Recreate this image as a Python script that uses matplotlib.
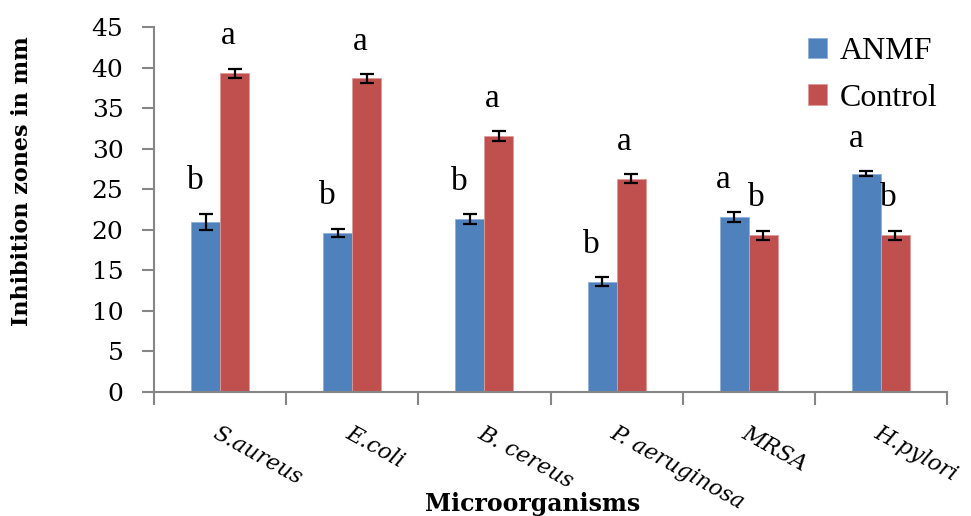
import matplotlib
matplotlib.use("Agg")
import matplotlib.pyplot as plt
import numpy as np

# data
organisms = ["S.aureus", "E.coli", "B. cereus", "P. aeruginosa", "MRSA", "H.pylori"]
anmf = [21.0, 19.6, 21.3, 13.6, 21.6, 26.9]
anmf_err = [1.0, 0.55, 0.6, 0.55, 0.6, 0.3]
control = [39.3, 38.7, 31.6, 26.3, 19.3, 19.3]
control_err = [0.6, 0.55, 0.6, 0.55, 0.6, 0.6]
anmf_letters = ["b", "b", "b", "b", "a", "a"]
control_letters = ["a", "a", "a", "a", "b", "b"]

BLUE = "#4F81BD"; RED = "#C0504D"; GREY = "#868686"
SERIF = "Liberation Serif"

fig = plt.figure(figsize=(9.71, 5.16), dpi=100)
ax = fig.add_axes([154/971, 1 - 391.7/516, (947-154)/971, (391.7-27.3)/516])

x = np.arange(len(organisms))
w = 0.22
ax.bar(x - w/2, anmf, w, color=BLUE, edgecolor="#8fb0d8", linewidth=0.6, label="ANMF", zorder=2)
ax.bar(x + w/2, control, w, color=RED, edgecolor="#e09a98", linewidth=0.6, label="Control", zorder=2)
ax.errorbar(x - w/2, anmf, yerr=anmf_err, fmt="none", ecolor="black", elinewidth=1.6,
            capsize=5, capthick=1.6, zorder=3)
ax.errorbar(x + w/2, control, yerr=control_err, fmt="none", ecolor="black", elinewidth=1.6,
            capsize=5, capthick=1.6, zorder=3)

# significance letters
for xi, v, e, lab in zip(x - w/2, anmf, anmf_err, anmf_letters):
    ax.text(xi - 0.08, v + e + 4, lab, ha="center", va="center", fontsize=24, family=SERIF)
for xi, v, e, lab in zip(x + w/2, control, control_err, control_letters):
    ax.text(xi - 0.05, v + e + 4, lab, ha="center", va="center", fontsize=24, family=SERIF)

ax.set_xlim(-0.5, len(organisms) - 0.5)
ax.set_ylim(0, 45)
ax.set_yticks(np.arange(0, 46, 5))
ax.set_yticklabels([str(v) for v in range(0, 46, 5)], fontsize=18, family="DejaVu Serif")
ax.set_xticks(x)
ax.set_xticks(np.arange(-0.5, len(organisms)), minor=True)
ax.set_xticklabels(organisms, rotation=-29, ha="left", va="top", rotation_mode="anchor",
                   fontsize=16, family="DejaVu Serif", style="italic")
ax.tick_params(axis="x", which="major", length=0, pad=22)
ax.tick_params(axis="x", which="minor", length=9, width=1.5, color=GREY)
ax.tick_params(axis="y", length=9, width=1.5, color=GREY, pad=13)

for s in ["top", "right"]:
    ax.spines[s].set_visible(False)
for s in ["left", "bottom"]:
    ax.spines[s].set_color(GREY)
    ax.spines[s].set_linewidth(1.5)

ax.set_ylabel("Inhibition zones in mm", fontsize=16, fontweight="bold", family="DejaVu Serif")
ax.yaxis.set_label_coords(-0.1526, 0.577)
ax.set_xlabel("Microorganisms", fontsize=17, fontweight="bold", family="DejaVu Serif", va="top")
ax.xaxis.set_label_coords(0.477, -0.276)

ax.legend(loc="upper right", bbox_to_anchor=(1.004, 1.008), frameon=False,
          prop={"family": SERIF, "size": 23}, handlelength=0.6, handleheight=0.6,
          handletextpad=0.4, labelspacing=0.55, borderaxespad=0)

fig.savefig("out.png", dpi=100)
